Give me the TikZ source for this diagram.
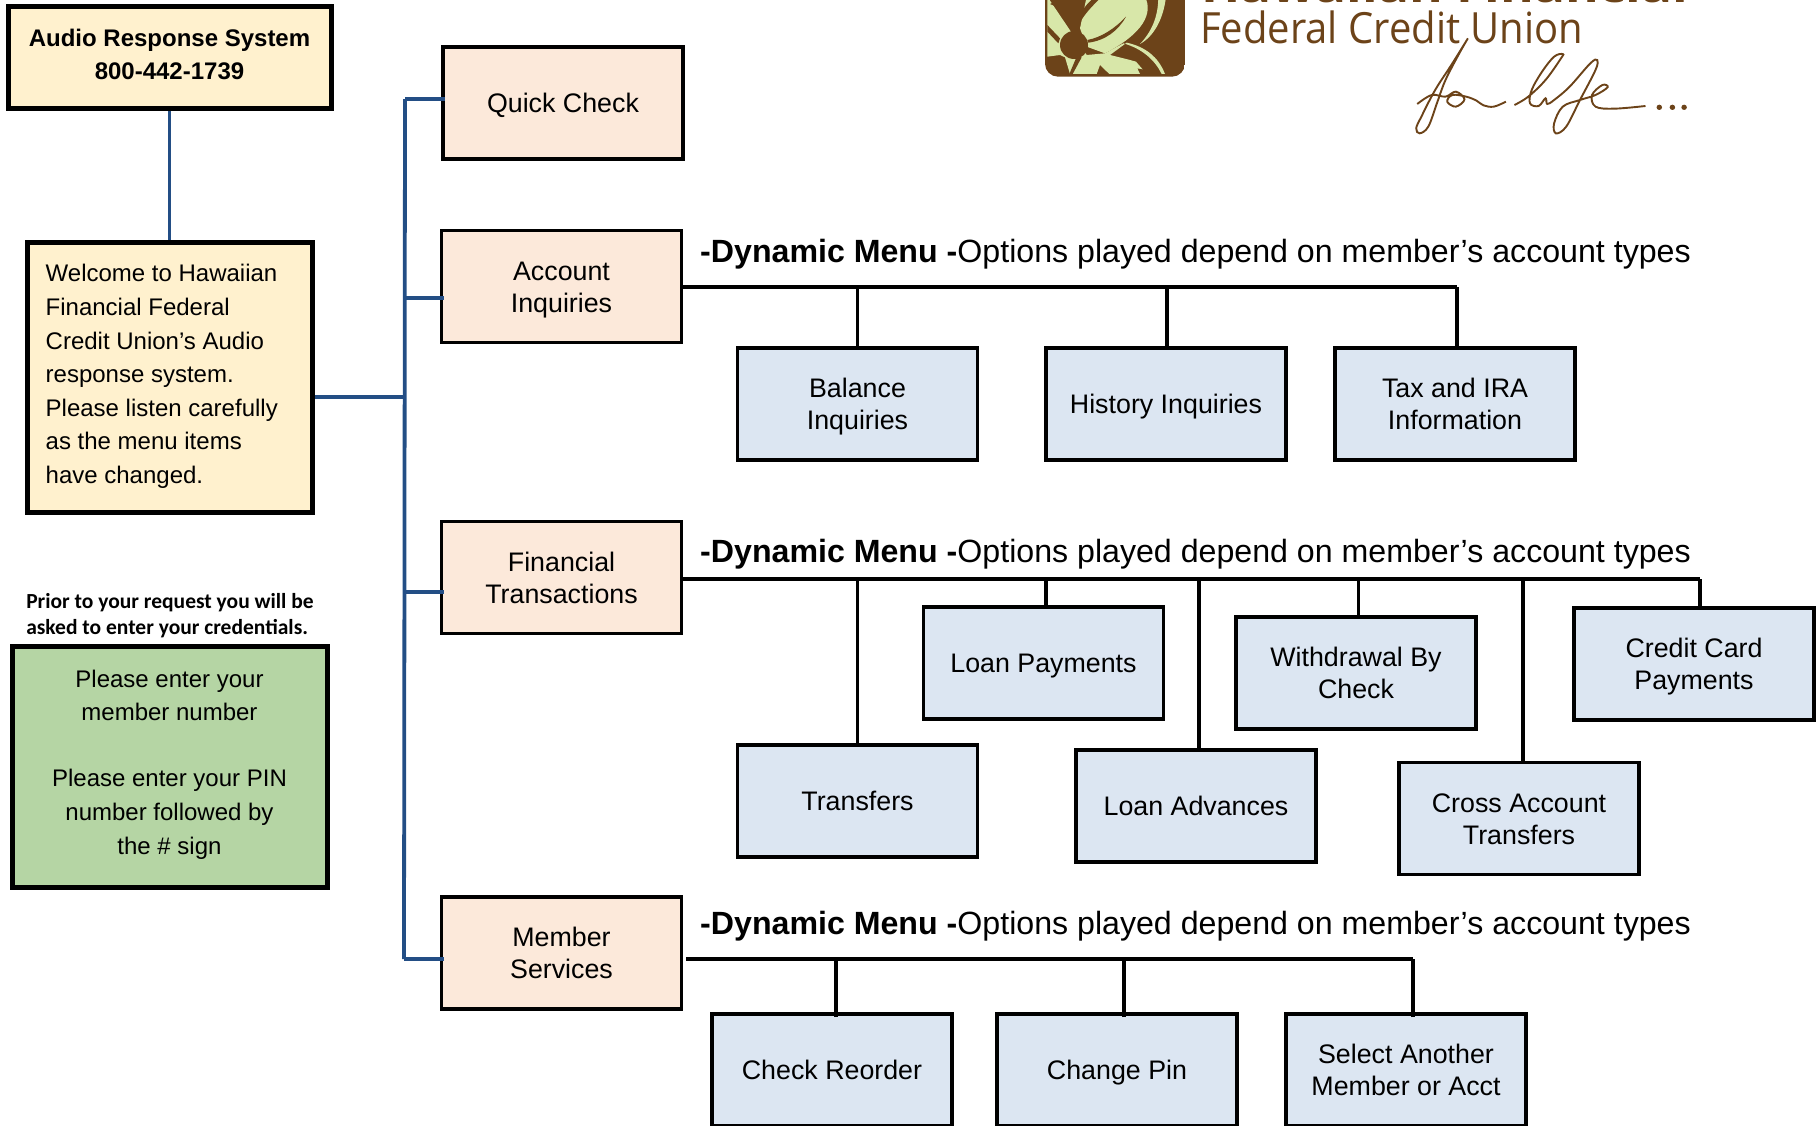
\documentclass[tikz,border=0pt]{standalone}
\usepackage{fontspec}
\setmainfont{Liberation Sans}
\newfontfamily\credfont{Carlito}
\newfontfamily\logofont{Open Sans}
\definecolor{creamfill}{HTML}{FFF1CE}
\definecolor{peachfill}{HTML}{FCE9DA}
\definecolor{bluefill}{HTML}{DCE6F2}
\definecolor{greenfill}{HTML}{B5D5A4}
\definecolor{trunkblue}{HTML}{234E85}
\definecolor{logobrown}{HTML}{6C4319}
\definecolor{logogreen}{HTML}{D8E7A9}
\tikzset{
  menubox/.style={draw,line width=3.8pt,fill=peachfill,minimum width=240pt,minimum height=112pt,inner sep=0pt,align=center,text height=19.5pt,text depth=0.3pt,font=\fontsize{26.8}{32}\selectfont},
  twolines/.style={text height=51.5pt},
  subbox/.style={menubox,fill=bluefill},
  infobox/.style={draw,line width=5pt,inner sep=0pt,align=center,font=\fontsize{24}{33.8}\selectfont},
  headline/.style={anchor=west,inner sep=0pt,font=\fontsize{32.15}{36}\selectfont},
  trunkline/.style={trunkblue,line width=3.8pt},
  busline/.style={line width=4pt},
  dropline/.style={line width=3.2pt}
}
\begin{document}
\begin{tikzpicture}[x=1pt,y=-1pt]
  \useasboundingbox (0,0) rectangle (1820,1125);
  \clip (0,0) rectangle (1820,1125);
  \begin{scope}[shift={(1030,0)},x=0.3333pt,y=-0.3333pt]
    \clip[rounded corners=13pt] (45,-60) rectangle (465,230);
    \fill[logobrown] (45,-60) rectangle (465,230);
    \fill[logogreen] (52,-10) -- (52,170) -- (90,165) -- (105,172) -- (120,222) -- (200,222) -- (210,195) -- (238,222) -- (330,222) -- (322,205) -- (338,208) -- (318,185) -- (300,180) -- (240,165) -- (290,128) .. controls (345,140) and (385,170) .. (405,222) -- (395,222) .. controls (375,180) and (335,145) .. (280,130) -- (225,160) -- (170,165) -- cycle;
    \fill[logogreen] (170,-10) -- (345,-10) .. controls (370,40) and (340,100) .. (225,160) -- (170,140) -- (150,85) -- cycle;
    \fill[logogreen] (385,-10) -- (408,-10) .. controls (400,60) and (370,110) .. (330,132) .. controls (365,95) and (385,50) .. (385,-10) -- cycle;
    \fill[logobrown] (100,-10) .. controls (125,10) and (135,40) .. (132,75) .. controls (112,40) and (95,25) .. (60,12) .. controls (75,5) and (90,0) .. (100,-10) -- cycle;
    \fill[logobrown] (147,72) .. controls (145,45) and (160,20) .. (195,-10) -- (215,-10) .. controls (185,20) and (165,40) .. cycle;
    \fill[logobrown] (172,120) .. controls (215,112) and (255,85) .. (288,50) .. controls (265,92) and (225,122) .. (175,128) -- cycle;
    \fill[logobrown] (52,75) -- (90,115) -- (85,130) -- (52,95) -- cycle;
    \fill[logobrown] (132,135) circle[radius=42];
    \fill[logobrown] (140,170) -- (155,172) -- (128,222) -- (118,222) -- cycle;
  \end{scope}
  \node[anchor=base west,inner sep=0pt,text=logobrown,xscale=1.225,font=\logofont\bfseries\fontsize{42}{42}\selectfont] (hawaiian) at (1201,2) {Hawaiian Financial};
  \node[anchor=base west,inner sep=0pt,text=logobrown,xscale=0.93,font=\logofont\fontsize{43}{43}\selectfont] (federal) at (1200,43) {Federal Credit Union};
  \begin{scope}[shift={(1180,0)},x=0.3448pt,y=-0.3333pt,logobrown,line width=1.9pt]
    \draw plot[smooth,tension=0.6] coordinates {(835,115) (790,190) (740,270) (700,350) (685,385) (695,400) (720,380) (745,310) (770,240) (810,160) (835,115)};
    \draw plot[smooth,tension=0.6] coordinates {(688,312) (730,285) (770,290) (800,275) (825,298) (800,320) (775,305) (790,285) (830,290) (860,302) (880,316) (910,320) (945,305)};
    \draw plot[smooth,tension=0.6] coordinates {(970,315) (1010,290) (1060,240) (1105,175) (1110,162) (1085,170) (1050,215) (1020,270) (1015,310) (1040,318) (1060,295) (1065,312) (1085,300) (1130,260) (1190,190) (1210,180) (1205,210) (1160,300) (1120,380) (1090,400) (1085,370) (1110,320) (1160,300) (1205,285) (1240,262) (1225,255) (1195,285) (1205,320) (1260,326) (1350,318)};
    \fill (1390,322) circle[radius=8] (1428,322) circle[radius=8] (1462,322) circle[radius=8];
  \end{scope}
  \node[infobox,fill=creamfill,minimum width=323pt,minimum height=102pt] (ars) at (169.5,57) {};
  \node[inner sep=0pt,align=center,font=\bfseries\fontsize{24}{33.8}\selectfont] (arstext) at (169.5,54.5) {Audio Response System\\800-442-1739};
  \node[infobox,fill=creamfill,minimum width=285pt,minimum height=270pt] (welcome) at (169.5,377) {};
  \node[anchor=west,inner sep=0pt,align=left,font=\fontsize{24}{33.6}\selectfont] (welcometext) at (45.5,376.5) {Welcome to Hawaiian\\Financial Federal\\Credit Union’s Audio\\response system.\\Please listen carefully\\as the menu items\\have changed.};
  \node[inner sep=0pt,align=left,font=\credfont\bfseries\fontsize{21.5}{26}\selectfont] (prior) at (170,616) {Prior to your request you will be\\asked to enter your credentials.};
  \node[infobox,fill=greenfill,minimum width=315pt,minimum height=241pt] (member) at (169.5,766.5) {};
  \node[inner sep=0pt,align=center,font=\fontsize{24}{33.8}\selectfont] (membertext) at (169.5,764.5) {Please enter your\\member number\\[32pt]Please enter your PIN\\number followed by\\the \# sign};
  \node[menubox] (quick) at (563,103) {Quick Check};
  \node[menubox,twolines] (account) at (561.5,286.5) {Account\\Inquiries};
  \node[menubox,twolines] (financial) at (561.5,577.5) {Financial\\Transactions};
  \node[menubox,twolines] (services) at (561.5,953) {Member\\Services};
  \node[headline] (heada) at (700,254.5) {\textbf{-Dynamic Menu -}Options played depend on member’s account types};
  \node[headline] (headb) at (700,554) {\textbf{-Dynamic Menu -}Options played depend on member’s account types};
  \node[headline] (headc) at (700,926.5) {\textbf{-Dynamic Menu -}Options played depend on member’s account types};
  \node[subbox,twolines] (balance) at (857.5,404) {Balance\\Inquiries};
  \node[subbox] (history) at (1166,404) {History Inquiries};
  \node[subbox,twolines] (tax) at (1455,404) {Tax and IRA\\Information};
  \node[subbox] (transfers) at (857.5,801) {Transfers};
  \node[subbox] (loanpay) at (1043.5,663) {Loan Payments};
  \node[subbox] (loanadv) at (1196,806) {Loan Advances};
  \node[subbox,twolines] (withdraw) at (1356,673) {Withdrawal By\\Check};
  \node[subbox,twolines] (cross) at (1519,818.5) {Cross Account\\Transfers};
  \node[subbox,twolines] (credit) at (1694,664) {Credit Card\\Payments};
  \node[subbox] (reorder) at (832,1070) {Check Reorder};
  \node[subbox] (changepin) at (1117,1070) {Change Pin};
  \node[subbox,twolines] (another) at (1406,1070) {Select Another\\Member or Acct};
  \coordinate (trunktop) at (405,99);
  \coordinate (trunkmid) at (405,397);
  \coordinate (trunkacct) at (405,298);
  \coordinate (trunkfin) at (404.5,592);
  \coordinate (trunkbot) at (404,959);
  \coordinate (busa) at (1457,287);
  \coordinate (busb) at (1700,579);
  \coordinate (busc) at (1413,959);
  \draw[trunkline] (ars.south) to (welcome.north);
  \draw[trunkline] (welcome.east |- trunkmid) to (trunkmid);
  \draw[trunkline] (trunktop) to (trunkbot);
  \draw[trunkline] (trunktop) to ([xshift=4pt]trunktop -| quick.west);
  \draw[trunkline] (trunkacct) to ([xshift=4pt]trunkacct -| account.west);
  \draw[trunkline] (trunkfin) to ([xshift=4pt]trunkfin -| financial.west);
  \draw[trunkline] (trunkbot) to ([xshift=4pt]trunkbot -| services.west);
  \draw[busline] (account.east |- busa) to (busa);
  \draw[busline] (financial.east |- busb) to (busb);
  \draw[busline] ([xshift=3pt]services.east |- busc) to (busc);
  \draw[dropline] (balance.north) to (balance.north |- busa);
  \draw[dropline] ([xshift=1pt]history.north) to ([xshift=1pt]history.north |- busa);
  \draw[dropline] (busa) to (busa |- tax.north);
  \draw[dropline] (transfers.north) to (transfers.north |- busb);
  \draw[dropline] ([xshift=2.5pt]loanpay.north) to ([xshift=2.5pt]loanpay.north |- busb);
  \draw[dropline] ([xshift=3pt]loanadv.north) to ([xshift=3pt]loanadv.north |- busb);
  \draw[dropline] ([xshift=2.5pt]withdraw.north) to ([xshift=2.5pt]withdraw.north |- busb);
  \draw[dropline] ([xshift=4pt]cross.north) to ([xshift=4pt]cross.north |- busb);
  \draw[dropline] (busb) to (busb |- credit.north);
  \draw[dropline] ([xshift=4pt,yshift=-5pt]reorder.north) to ([xshift=4pt]reorder.north |- busc);
  \draw[dropline] ([xshift=7pt,yshift=-5pt]changepin.north) to ([xshift=7pt]changepin.north |- busc);
  \draw[dropline] ([yshift=-5pt]busc |- another.north) to (busc);
\end{tikzpicture}
\end{document}
